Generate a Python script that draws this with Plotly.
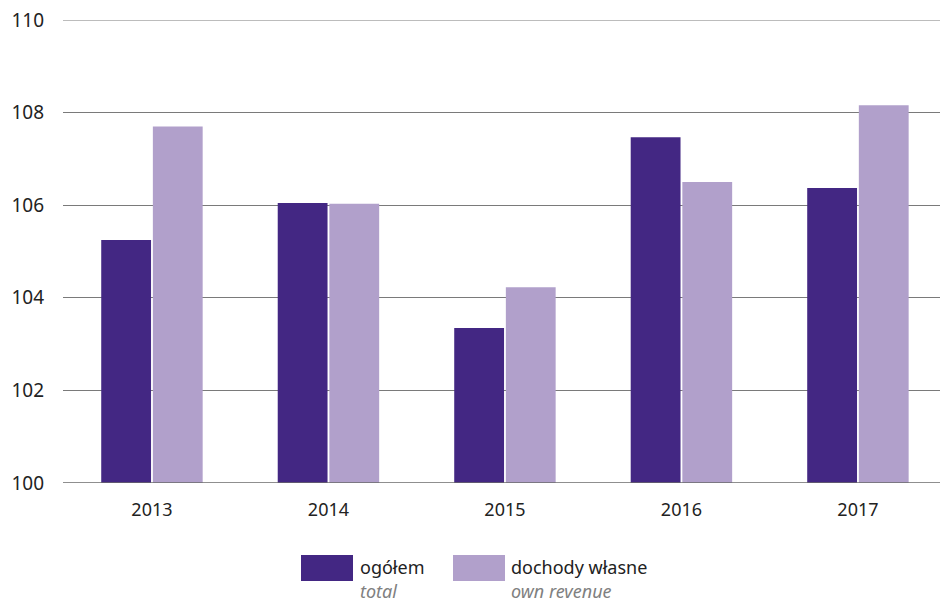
import plotly.graph_objects as go

years = ["2013", "2014", "2015", "2016", "2017"]
ogolem = [105.25, 106.05, 103.35, 107.47, 106.37]
dochody = [107.7, 106.03, 104.23, 106.5, 108.16]
series_names = ["ogółem", "dochody własne"]
series_sub = ["total", "own revenue"]
colors = ["#432783", "#b1a0cb"]
yticks = [100, 102, 104, 106, 108, 110]

fig = go.Figure()
fig.add_trace(go.Bar(x=years, y=[v - 100 for v in ogolem], base=100, name=series_names[0],
                     marker=dict(color=colors[0], line_width=0)))
fig.add_trace(go.Bar(x=years, y=[v - 100 for v in dochody], base=100, name=series_names[1],
                     marker=dict(color=colors[1], line_width=0)))

font = "Noto Sans, Open Sans, sans-serif"
fig.update_layout(
    width=942, height=603,
    margin=dict(l=63, r=2, t=20, b=120),
    plot_bgcolor="white", paper_bgcolor="white",
    barmode="group", bargap=0.415, bargroupgap=0.035,
    showlegend=False,
    font=dict(family=font, size=18, color="#222222"),
    xaxis=dict(showgrid=False, ticks="", tickfont=dict(size=18), range=[-0.504, 4.465],
               showline=False, ticklabelstandoff=14),
    yaxis=dict(range=[100, 110], tickvals=yticks, showgrid=True, gridcolor="#7a7a7a",
               gridwidth=1, zeroline=False, ticks="", tickfont=dict(size=19),
               ticklabelstandoff=18),
)
fig.add_hline(y=110, line=dict(color="#7a7a7a", width=1))
fig.add_hline(y=100, line=dict(color="#6a6a6a", width=1.5))

# custom legend
W, H = 877, 463
leg = [(301, 353, 361), (453, 505, 512)]
for i, (x0, x1, tx) in enumerate(leg):
    fig.add_shape(type="rect", xref="paper", yref="paper",
                  x0=(x0 - 63) / W, x1=(x1 - 63) / W,
                  y0=(483 - 581) / H, y1=(483 - 555) / H,
                  fillcolor=colors[i], line_width=0)
    fig.add_annotation(x=(tx - 63) / W, y=(483 - 567) / H, xref="paper", yref="paper",
                       text=series_names[i], showarrow=False, xanchor="left", yanchor="middle",
                       xshift=-2, borderpad=0, font=dict(size=18, color="#222222"))
    fig.add_annotation(x=(tx - 63) / W, y=(483 - 591) / H, xref="paper", yref="paper",
                       text="<i>" + series_sub[i] + "</i>", showarrow=False, xanchor="left",
                       yanchor="middle", xshift=-2, borderpad=0,
                       font=dict(size=18, color="#808080"))

fig.write_html("out.html", config={"displayModeBar": False},
               post_script="document.body.style.margin='0';")
